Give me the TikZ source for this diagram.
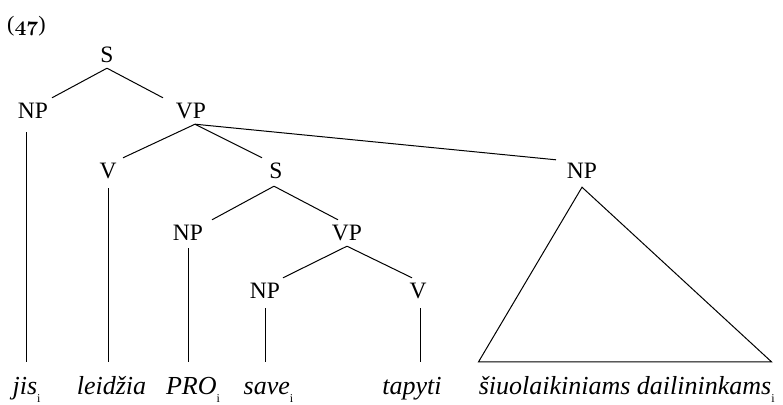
\documentclass[tikz,border=0pt]{standalone}
\usepackage{fontspec}
\setmainfont{Liberation Serif}
\usetikzlibrary{calc}
\newcommand\ix{\raisebox{-8pt}{\fontsize{12}{12}\selectfont\upshape i}}
\newcommand\osnum[1]{{\fontsize{21}{24}\usefont{OML}{cmm}{b}{it}#1}}
\begin{document}
\begin{tikzpicture}[x=1pt,y=-1pt,
  lab/.style={anchor=base, inner sep=0pt, text height=20pt, text depth=6pt, font=\fontsize{23.5}{28}\selectfont},
  leaf/.style={anchor=base, inner sep=0pt, text height=32pt, font=\fontsize{26}{30}\selectfont\itshape},
  edge/.style={line width=1pt}]
\useasboundingbox (0,0) rectangle (783,404);
\node[anchor=base west, inner sep=0pt, font=\fontsize{22}{26}\selectfont] (ex) at (7,31) {(\osnum{47})};
% labels
\node[lab] (S1) at (107,62) {S};
\node[lab] (NP1) at (33,118) {NP};
\node[lab] (VP1) at (191,118) {VP};
\node[lab] (V2) at (108,178) {V};
\node[lab] (S2) at (276,178) {S};
\node[lab] (NPr) at (582,178) {NP};
\node[lab] (NP2) at (188,240) {NP};
\node[lab] (VP2) at (347,240) {VP};
\node[lab] (NP3) at (265,298) {NP};
\node[lab] (V3) at (418,298) {V};
% leaves
\node[leaf] (jis) at (26.5,394) {jis\ix};
\node[leaf] (leid) at (111.5,394) {leidžia};
\node[leaf] (pro) at (193,394) {PRO\ix};
\node[leaf] (save) at (268.5,394) {save\ix};
\node[leaf] (tap) at (412,394) {tapyti};
\node[leaf] (siu) at (625,394) {šiuolaikiniams dailininkams\rlap{\ix}};
% branches
\draw[edge] (S1.south) -- ([xshift=19pt]NP1.north);
\draw[edge] (S1.south) -- ([xshift=-28pt]VP1.north);
\draw[edge] ([xshift=4pt]VP1.south) -- ([xshift=15pt]V2.north);
\draw[edge] ([xshift=4pt]VP1.south) -- ([xshift=-14pt]S2.north);
\draw[edge] ([xshift=4pt]VP1.south) -- ([xshift=-26pt,yshift=-2pt]NPr.north);
\draw[edge] ([xshift=-2pt,yshift=-2pt]S2.south) -- ([xshift=24pt]NP2.north);
\draw[edge] ([xshift=-2pt,yshift=-2pt]S2.south) -- ([xshift=-9pt]VP2.north);
\draw[edge] (VP2.south) -- ([xshift=18pt]NP3.north);
\draw[edge] (VP2.south) -- ([xshift=-6pt]V3.north);
% leaf lines
\draw[edge] ($(NP1.south -| jis.north)+(0,8)$) -- (jis.north);
\draw[edge] ([yshift=-4pt]V2.south) -- (V2.south |- leid.north);
\draw[edge] ([yshift=-2pt]NP2.south) -- (NP2.south |- pro.north);
\draw[edge] ([yshift=-4pt]NP3.south) -- (NP3.south |- save.north);
\draw[edge] ([xshift=2pt,yshift=-4pt]V3.south) -- ($(V3.south |- tap.north)+(2,0)$);
\draw[edge] (siu.north west) -- ([yshift=-3pt]NPr.south) -- (siu.north east) -- cycle;
\end{tikzpicture}
\end{document}
